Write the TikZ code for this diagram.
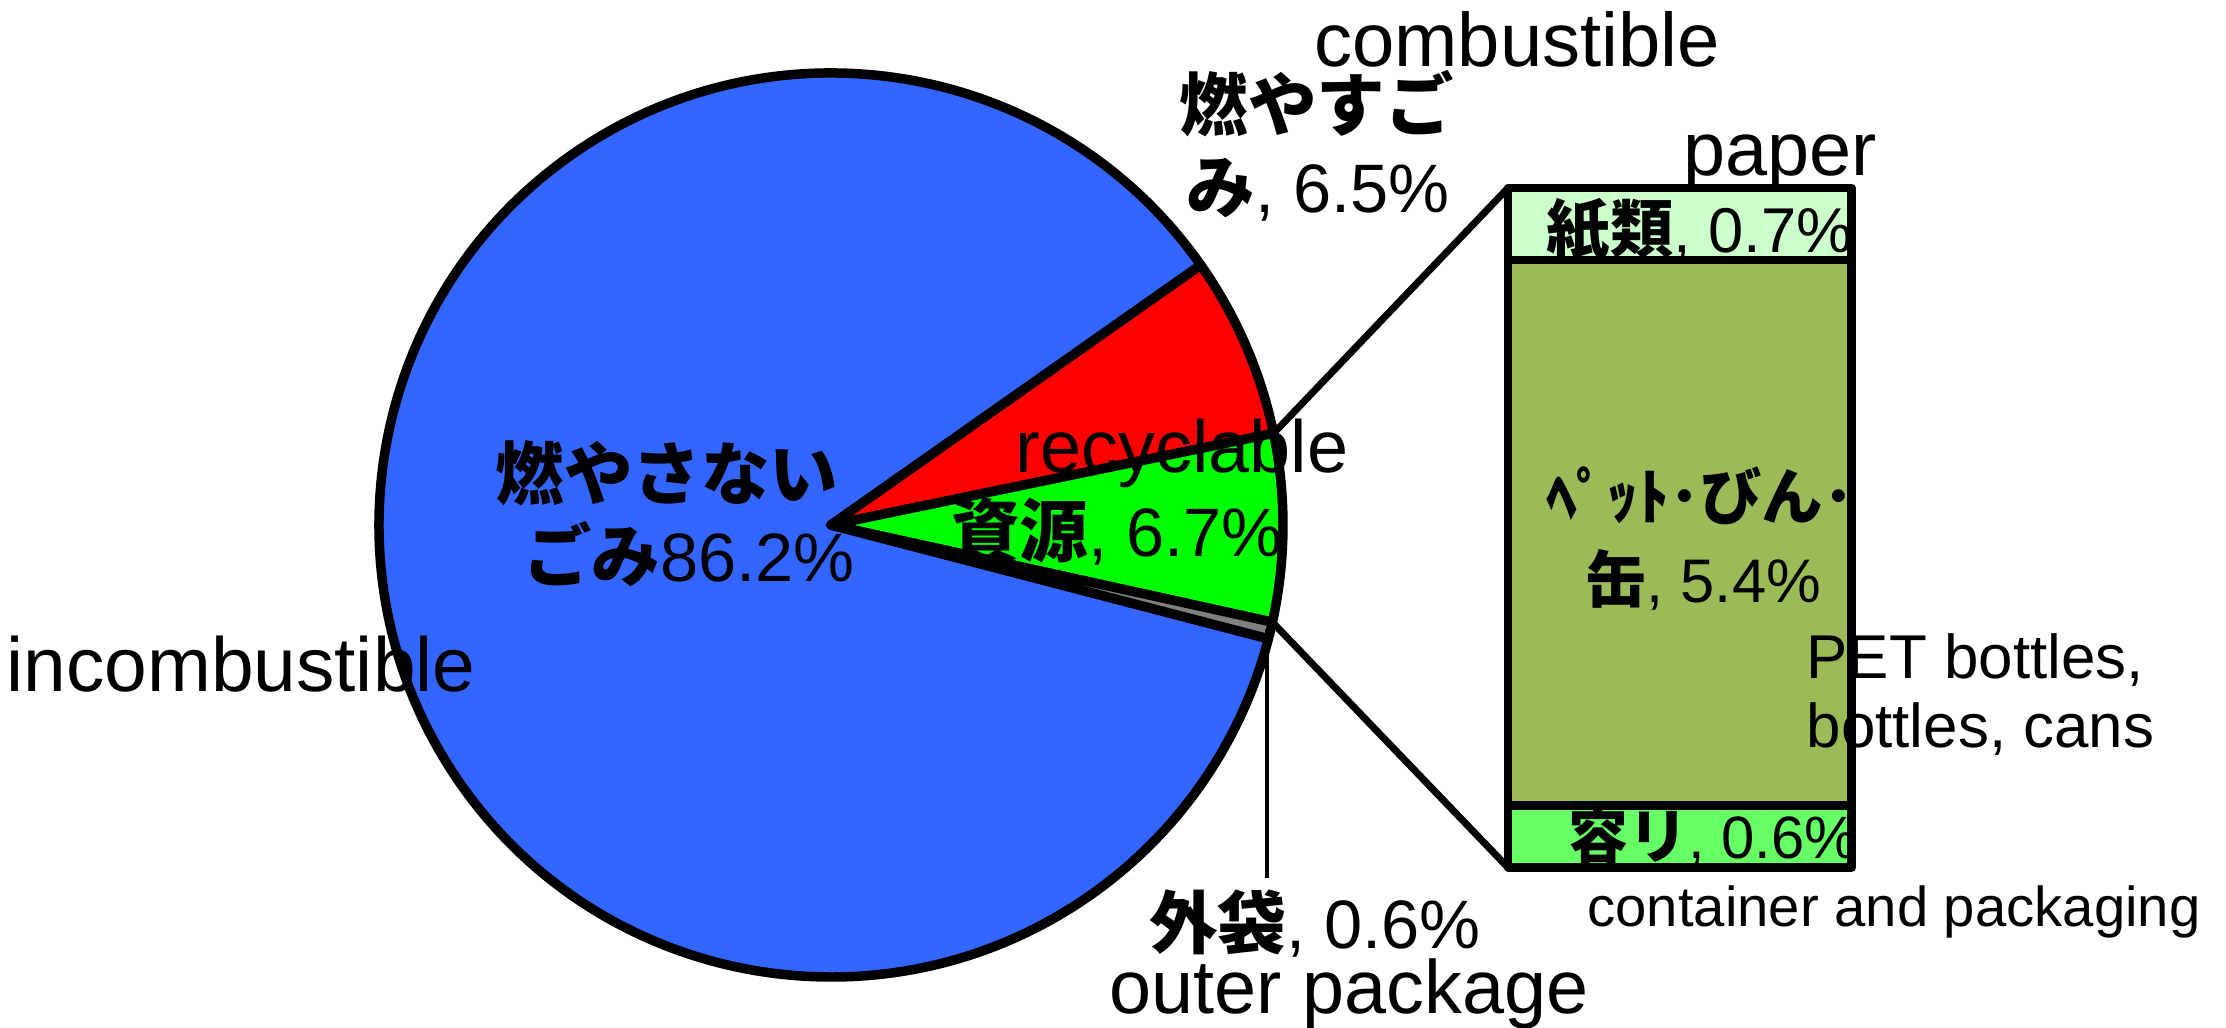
\documentclass[tikz,border=0pt]{standalone}
\usepackage{fontspec}
\setmainfont{Liberation Sans}
\newfontfamily\jp{Noto Sans CJK JP}
\newcommand{\jb}[1]{{\jp\bfseries #1}}
\newcommand{\fs}[1]{\fontsize{#1}{#1}\selectfont}
\definecolor{pieblue}{RGB}{51,102,255}
\definecolor{piegrey}{RGB}{128,128,128}
\definecolor{paperg}{RGB}{204,255,204}
\definecolor{petg}{RGB}{155,187,89}
\definecolor{contg}{RGB}{102,255,102}
\begin{document}
\begin{tikzpicture}[x=0.01cm,y=0.01cm,line join=round,
		wedge/.style={draw=black,line width=2.7pt},
		band/.style={inner sep=0pt,minimum width=3.42cm,anchor=north west},
		boxline/.style={line width=2.5pt},
		conn/.style={line width=2pt},
		lbl/.style={inner sep=0pt,anchor=base}]
	\useasboundingbox (0,0) rectangle (2226,1028);
%	pie
	\coordinate (C) at (831,503);
	\filldraw[wedge,fill=pieblue] (C) -- ++(35.1:452) arc[start angle=35.1,end angle=345.42,radius=452] -- cycle;
	\filldraw[wedge,fill=red] (C) -- ++(11.7:452) arc[start angle=11.7,end angle=35.1,radius=452] -- cycle;
	\filldraw[wedge,fill=green] (C) -- ++(-12.42:452) arc[start angle=-12.42,end angle=11.7,radius=452] -- cycle;
	\filldraw[wedge,fill=piegrey] (C) -- ++(-14.58:452) arc[start angle=-14.58,end angle=-12.42,radius=452] -- cycle;
	\path (C) ++(11.7:452) coordinate (rg);
	\path (C) ++(-12.42:452) coordinate (gg);
	\path (C) ++(-13.5:448) coordinate (og);
	\coordinate (oglow) at (1271,150);
%	bar of the recyclables
	\node[band,fill=paperg,minimum height=0.705cm] (paper) at (1508,840) {};
	\node[band,fill=petg,minimum height=5.44cm] (pet) at (paper.south west) {};
	\node[band,fill=contg,minimum height=0.605cm] (cont) at (pet.south west) {};
	\draw[conn] (rg) -- (paper.north west);
	\draw[conn] (gg) -- (cont.south west);
	\draw[line width=1.2pt] (og) -- (og |- oglow);
%	labels
	\node[lbl,font=\fs{21.6}] (combl) at (1517,961) {combustible};
	\node[lbl,anchor=base west,font=\fs{19.5}] (moyasu1) at (1179,897) {\jb{燃やすご}};
	\node[lbl,anchor=base west,font=\fs{19.5}] (moyasu2) at (1186,815) {\jb{み}, 6.5\%};
	\node[lbl,font=\fs{21.5}] (paperl) at (1780,852) {paper};
	\node[lbl,font=\fs{18}] (kami) at (1700,775) {\jb{紙類}, 0.7\%};
	\node[lbl,font=\fs{17.5}] (pet1) at (1700,508) {\jb{ﾍﾟｯﾄ･びん･}};
	\node[lbl,font=\fs{17.5}] (pet2) at (1703,425) {\jb{缶}, 5.4\%};
	\node[lbl,anchor=base west,font=\fs{17.6}] (petl1) at (1806,349) {PET bottles,};
	\node[lbl,anchor=base west,font=\fs{17.6}] (petl2) at (1806,280) {bottles, cans};
	\node[lbl,font=\fs{17}] (youri) at (1713,169) {\jb{容リ}, 0.6\%};
	\node[lbl,font=\fs{16}] (contl) at (1894,101) {container and packaging};
	\node[lbl,font=\fs{19.5}] (gaitai) at (1315,79) {\jb{外袋}, 0.6\%};
	\node[lbl,font=\fs{21.5}] (outl) at (1349,14) {outer package};
	\node[lbl,font=\fs{21}] (recl) at (1182,555) {recyclable};
	\node[lbl,font=\fs{19.5}] (shigen) at (1117,471) {\jb{資源}, 6.7\%};
	\node[lbl,font=\fs{19.5}] (moyasanai1) at (667,528) {\jb{燃やさない}};
	\node[lbl,font=\fs{19.5}] (moyasanai2) at (689,446) {\jb{ごみ}86.2\%};
	\node[lbl,font=\fs{21.8}] (incombl) at (241,336) {incombustible};
%	outlines of the bar
	\draw[boxline] (paper.north west) rectangle (cont.south east);
	\draw[boxline] (paper.south west) -- (paper.south east);
	\draw[boxline] (cont.north west) -- (cont.north east);
\end{tikzpicture}
\end{document}
